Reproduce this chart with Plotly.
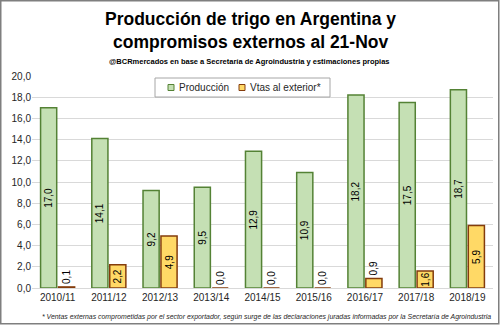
import plotly.graph_objects as go

campanas = ["2010/11", "2011/12", "2012/13", "2013/14", "2014/15", "2015/16", "2016/17", "2017/18", "2018/19"]
produccion = [17.0, 14.1, 9.2, 9.5, 12.9, 10.9, 18.2, 17.5, 18.7]
ventas = [0.1, 2.2, 4.9, 0.0, 0.0, 0.0, 0.9, 1.6, 5.9]
series_names = ["Producción", "Vtas al exterior*"]
fills = ["#C5E0B4", "#FFD966"]
borders = ["#548235", "#843C0C"]

def fmt(v):
    return f"{v:.1f}".replace(".", ",")

FONT = "Liberation Sans, Arial, sans-serif"

W, H = 500, 325
ML, MR, MT, MB = 32, 7, 76, 37
PW, PH = W - ML - MR, H - MT - MB

def px(x):
    return (x - ML) / PW

def py(y):
    return (H - MB - y) / PH

fig = go.Figure()
for name, vals, fc, lc in zip(series_names, [produccion, ventas], fills, borders):
    is_prod = name == series_names[0]
    fig.add_trace(go.Bar(
        x=campanas, y=vals, name=name,
        marker=dict(color=fc, line=dict(color=lc, width=1.5)),
        text=[fmt(v) for v in vals], textangle=-90,
        textposition="inside" if is_prod else ["inside" if v >= 1.5 else "outside" for v in vals],
        insidetextanchor="middle", constraintext="none", cliponaxis=False,
        textfont=dict(family=FONT, size=10, color="#000000"),
        showlegend=False,
    ))

fig.update_layout(
    width=W, height=H,
    margin=dict(l=ML, r=MR, t=MT, b=MB),
    paper_bgcolor="white", plot_bgcolor="white",
    barmode="group", bargap=0.30, bargroupgap=0.1,
    separators=",.",
    font=dict(family=FONT, size=10, color="#262626"),
    xaxis=dict(showline=True, linecolor="#D9D9D9", ticks="", tickfont=dict(size=10, color="#262626")),
    yaxis=dict(range=[0, 20], dtick=2, tickformat=".1f", gridcolor="#D9D9D9", gridwidth=1,
               zeroline=False, ticks="", tickfont=dict(size=10, color="#262626")),
)

annotations = [
    dict(text="<b>Producción de trigo en Argentina y</b>", x=px(250), y=py(19), font=dict(size=17.5, color="#000000")),
    dict(text="<b>compromisos externos al 21-Nov</b>", x=px(250), y=py(42), font=dict(size=17.5, color="#000000")),
    dict(text="<b>@BCRmercados en base a Secretaría de Agroindustria y estimaciones propias</b>", x=px(249), y=py(61),
         font=dict(size=7.5, color="#000000")),
    dict(text="<i>* Ventas externas comprometidas por el sector exportador, según surge de las declaraciones juradas informadas por la Secretaría de Agroindustria</i>",
         x=px(493), y=py(317), xanchor="right", font=dict(size=6.9, color="#262626")),
]

# custom legend box
fig.add_shape(type="rect", xref="paper", yref="paper",
              x0=px(155), x1=px(330), y0=py(97), y1=py(78),
              line=dict(color="#A6A6A6", width=1), fillcolor="white", layer="above")
leg_sq_x = [168, 239]
for name, fc, lc, sx in zip(series_names, fills, borders, leg_sq_x):
    fig.add_shape(type="rect", xref="paper", yref="paper",
                  x0=px(sx), x1=px(sx + 6), y0=py(90.5), y1=py(84.5),
                  line=dict(color=lc, width=1), fillcolor=fc, layer="above")
    annotations.append(dict(text=name, x=px(sx + 8.5), y=py(87.5), xanchor="left",
                            font=dict(size=10, color="#262626")))

for a in annotations:
    a.setdefault("xanchor", "center")
    a.update(xref="paper", yref="paper", yanchor="middle", showarrow=False)
    a["font"]["family"] = FONT
    fig.add_annotation(**a)

fig.add_shape(type="rect", xref="paper", yref="paper",
              x0=px(0.75), x1=px(W - 1.25), y0=py(H - 1.25), y1=py(0.75),
              line=dict(color="#7F7F7F", width=1.5), fillcolor="rgba(0,0,0,0)")

fig.write_html("out.html")
